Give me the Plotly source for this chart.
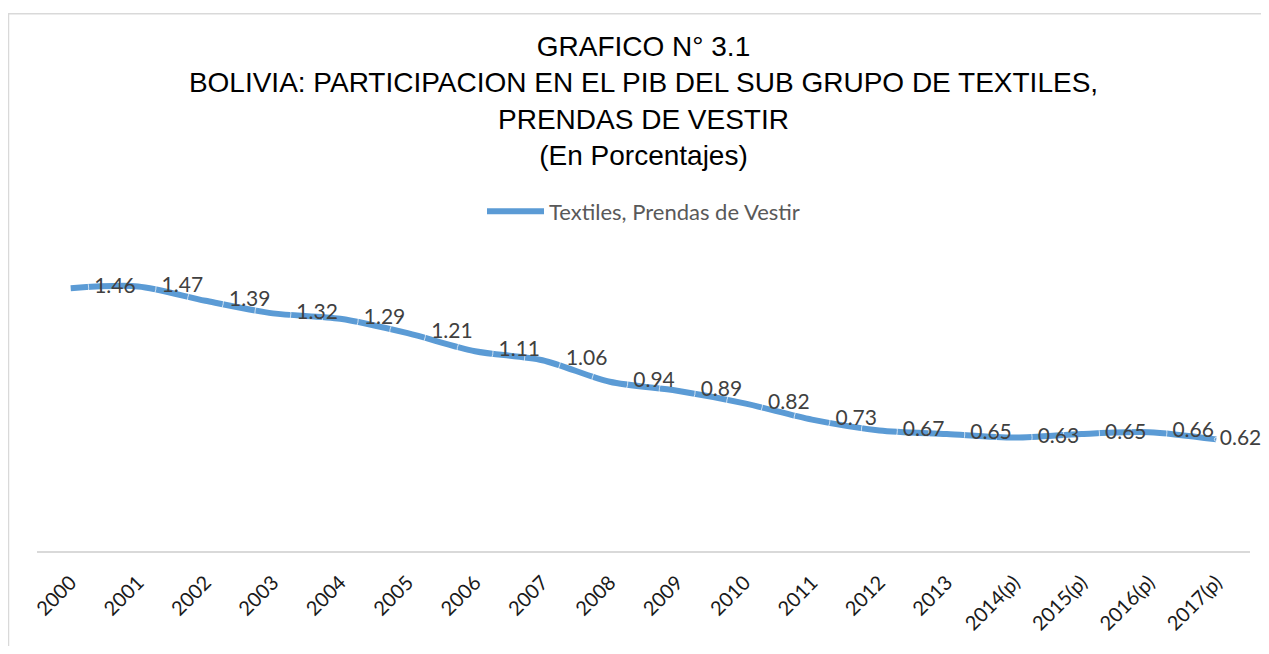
import plotly.graph_objects as go

years = ["2000", "2001", "2002", "2003", "2004", "2005", "2006", "2007", "2008",
         "2009", "2010", "2011", "2012", "2013", "2014(p)", "2015(p)", "2016(p)", "2017(p)"]
textiles = [1.46, 1.47, 1.39, 1.32, 1.29, 1.21, 1.11, 1.06, 0.94,
            0.89, 0.82, 0.73, 0.67, 0.65, 0.63, 0.65, 0.66, 0.62]

series_name = "Textiles, Prendas de Vestir"
title_text = ("GRAFICO N° 3.1<br>"
              "BOLIVIA: PARTICIPACION EN EL PIB DEL SUB GRUPO DE TEXTILES,<br>"
              "PRENDAS DE VESTIR<br>"
              "(En Porcentajes)")

line_color = "#5B9BD5"

# page has an 8px body margin, so the figure is sized to fit inside the window
W, H = 1253, 638

fig = go.Figure()

# smoothed line
fig.add_trace(go.Scatter(
    x=years, y=textiles,
    mode="lines",
    name=series_name,
    line=dict(color=line_color, width=6, shape="spline", smoothing=0.8),
    hoverinfo="x+y",
))

# data labels, pushed to the right of each point by an invisible marker;
# the last one sits closer so it stays inside the chart, as in Excel
label_offsets = [36] * (len(textiles) - 1) + [4]
fig.add_trace(go.Scatter(
    x=years, y=textiles,
    mode="markers+text",
    text=[f"{v:.2f}" for v in textiles],
    textposition="middle right",
    textfont=dict(family="Lato, Arial, sans-serif", size=21, color="#404040"),
    marker=dict(size=label_offsets, color="rgba(0,0,0,0)"),
    showlegend=False,
    hoverinfo="skip",
    cliponaxis=False,
))

# outer chart border (Excel chart area)
fig.add_shape(
    type="rect", xref="paper", yref="paper",
    x0=-0.0235, x1=1.2, y0=-1.0, y1=1.8655,
    line=dict(color="#D9D9D9", width=1.5),
    fillcolor="rgba(0,0,0,0)", layer="below",
)

fig.update_layout(
    title=dict(
        text=title_text,
        x=0.5, xref="paper", xanchor="center",
        y=1 - 48 / H, yref="container", yanchor="top",
        font=dict(family="Liberation Sans, Arial, sans-serif", size=28, color="#000000"),
    ),
    xaxis=dict(
        type="category",
        showgrid=False,
        showline=True,
        linecolor="#D9D9D9",
        linewidth=2,
        ticks="",
        tickangle=-45,
        ticklabelstandoff=10,
        tickfont=dict(family="Lato, Arial, sans-serif", size=20, color="#1a1a1a"),
        range=[-0.5, len(years) - 0.5],
    ),
    yaxis=dict(
        range=[0, 1.6],
        visible=False,
        showgrid=False,
        zeroline=False,
    ),
    legend=dict(
        orientation="h",
        x=0.5, xanchor="center",
        y=1.179, yanchor="middle",
        font=dict(family="Lato, Arial, sans-serif", size=22, color="#595959"),
        itemwidth=57,
    ),
    showlegend=True,
    plot_bgcolor="white",
    paper_bgcolor="white",
    margin=dict(l=29, r=11, t=255, b=93),
    width=W,
    height=H,
)

fig.write_html("out.html")
